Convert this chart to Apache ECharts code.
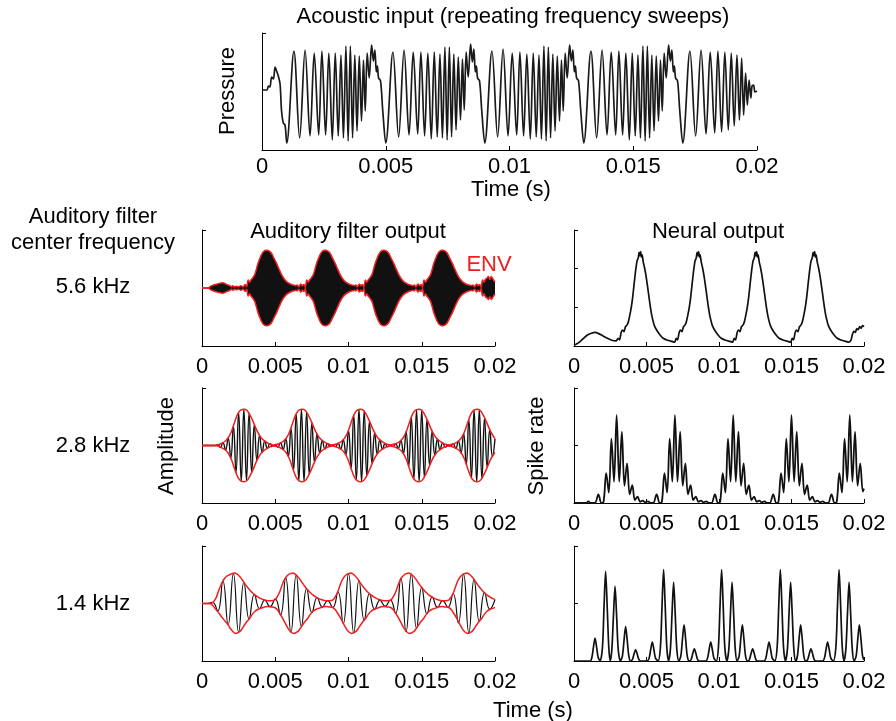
<!DOCTYPE html>
<html><head><meta charset="utf-8">
<script src="https://cdn.jsdelivr.net/npm/echarts@6/dist/echarts.min.js"></script>
<style>html,body{margin:0;padding:0;background:#fff}#c{width:896px;height:721px}</style>
</head><body><div id="c"></div>
<script>
// ---------- tick labels (x axes are in ms, labelled in s) ----------
const tickLabels = ['0','0.005','0.01','0.015','0.02'];

// ---------- Acoustic input: [time ms, pressure] ----------
const acoustic = [
[0,0],[0.2,0],[0.26,4],[0.32,3],[0.39,13],[0.46,11],[0.53,23],[0.59,19],[0.66,14],[0.73,6],[0.79,-21],[0.86,-33],[0.93,-35],
[1.0,-53],[1.29,39],[1.52,-48],[1.74,40],[1.94,-46],[2.11,37],[2.29,-45],[2.42,39],[2.57,-45],[2.70,37],[2.84,-50],[2.96,37],[3.08,-46],[3.19,35],[3.29,-48],[3.39,44],[3.48,-51],[3.57,44],[3.66,-48],[3.75,35],[3.84,-41],[3.93,34],[4.02,-31],[4.10,30],[4.17,-21],[4.25,37],[4.33,12],[4.43,45],[4.50,29],[4.56,40],[4.62,18],[4.66,24],[4.71,12],[4.79,9],[4.88,-21],
[5.0,-53],[5.29,38],[5.52,-47],[5.74,40],[5.94,-45],[6.11,38],[6.29,-44],[6.42,38],[6.57,-46],[6.70,37],[6.84,-49],[6.96,38],[7.08,-47],[7.19,36],[7.29,-48],[7.39,43],[7.48,-50],[7.57,43],[7.66,-47],[7.75,36],[7.84,-40],[7.93,33],[8.02,-30],[8.10,31],[8.17,-20],[8.25,38],[8.33,13],[8.43,46],[8.50,28],[8.56,41],[8.62,18],[8.66,24],[8.71,12],[8.79,9],[8.88,-21],
[9.0,-53],[9.29,39],[9.52,-47],[9.74,41],[9.94,-46],[10.11,37],[10.29,-45],[10.42,38],[10.57,-46],[10.70,36],[10.84,-49],[10.96,37],[11.08,-47],[11.19,35],[11.29,-49],[11.39,44],[11.48,-51],[11.57,43],[11.66,-48],[11.75,36],[11.84,-41],[11.93,34],[12.02,-31],[12.10,30],[12.17,-21],[12.25,37],[12.33,12],[12.43,45],[12.50,29],[12.56,40],[12.62,18],[12.66,24],[12.71,12],[12.79,9],[12.88,-21],
[13.0,-53],[13.29,39],[13.52,-48],[13.74,40],[13.94,-45],[14.11,38],[14.29,-45],[14.42,39],[14.57,-45],[14.70,37],[14.84,-50],[14.96,37],[15.08,-46],[15.19,35],[15.29,-48],[15.39,44],[15.48,-51],[15.57,44],[15.66,-48],[15.75,35],[15.84,-41],[15.93,34],[16.02,-31],[16.10,30],[16.17,-21],[16.25,37],[16.33,12],[16.43,45],[16.50,29],[16.56,40],[16.62,18],[16.66,24],[16.71,12],[16.79,9],[16.88,-21],
[17.0,-53],[17.29,39],[17.52,-46],[17.74,40],[17.94,-44],[18.11,38],[18.29,-43],[18.42,39],[18.57,-42],[18.70,38],[18.84,-40],[18.96,37],[19.08,-36],[19.19,35],[19.29,-30],[19.38,32],[19.46,-25],[19.54,17],[19.61,-15],[19.68,10],[19.75,-8],[19.80,4],[19.86,5],[19.92,-2],[20.0,-1]
];

// ---------- 5.6 kHz filter envelope: [time ms, amplitude] ----------
const env56Upper = [
[0,0],[0.4,0],[0.6,0.03],[0.9,0.06],[1.2,0.08],[1.4,0.09],[1.7,0.06],[1.9,0.04],[2.0,0.02],[2.1,0.04],[2.2,0.02],[2.4,0.03],[2.5,0.02],[2.65,0.04],[2.8,0.02],[2.95,0.06],[3.05,0.02],
[3.15,0.14],[3.25,0.1],[3.35,0.14],[3.45,0.17],[3.6,0.23],[3.72,0.33],[3.83,0.43],[3.95,0.51],[4.05,0.57],[4.2,0.63],[4.4,0.65],[4.57,0.64],[4.74,0.6],[4.9,0.52],[5.08,0.43],[5.25,0.33],[5.43,0.23],[5.6,0.16],[5.77,0.11],[5.95,0.08],[6.11,0.06],[6.25,0.05],[6.4,0.04],[6.5,0.05],[6.6,0.02],[6.75,0.07],[6.85,0.04],[6.95,0.06],[7.05,0.01],
[7.15,0.14],[7.25,0.1],[7.35,0.14],[7.45,0.17],[7.6,0.23],[7.72,0.33],[7.83,0.43],[7.95,0.51],[8.05,0.57],[8.2,0.63],[8.4,0.65],[8.57,0.64],[8.74,0.6],[8.9,0.52],[9.08,0.43],[9.25,0.33],[9.43,0.23],[9.6,0.16],[9.77,0.11],[9.95,0.08],[10.11,0.06],[10.25,0.05],[10.4,0.04],[10.5,0.05],[10.6,0.02],[10.75,0.07],[10.85,0.04],[10.95,0.06],[11.05,0.01],
[11.15,0.14],[11.25,0.1],[11.35,0.14],[11.45,0.17],[11.6,0.23],[11.72,0.33],[11.83,0.43],[11.95,0.51],[12.05,0.57],[12.2,0.63],[12.4,0.65],[12.57,0.64],[12.74,0.6],[12.9,0.52],[13.08,0.43],[13.25,0.33],[13.43,0.23],[13.6,0.16],[13.77,0.11],[13.95,0.08],[14.11,0.06],[14.25,0.05],[14.4,0.04],[14.5,0.05],[14.6,0.02],[14.75,0.07],[14.85,0.04],[14.95,0.06],[15.05,0.01],
[15.15,0.14],[15.25,0.1],[15.35,0.14],[15.45,0.17],[15.6,0.23],[15.72,0.33],[15.83,0.43],[15.95,0.51],[16.05,0.57],[16.2,0.63],[16.4,0.65],[16.57,0.64],[16.74,0.6],[16.9,0.52],[17.08,0.43],[17.25,0.33],[17.43,0.23],[17.6,0.16],[17.77,0.11],[17.95,0.08],[18.11,0.06],[18.25,0.05],[18.4,0.04],[18.5,0.05],[18.6,0.02],[18.75,0.07],[18.85,0.04],[18.95,0.06],[19.05,0.01],
[19.15,0.14],[19.25,0.1],[19.35,0.15],[19.45,0.17],[19.55,0.2],[19.65,0.15],[19.75,0.2],[19.85,0.16],[19.95,0.12],[20,0.1]
];
const env56Lower = [
[0,0],[0.4,0],[0.6,-0.03],[0.9,-0.06],[1.2,-0.08],[1.4,-0.09],[1.7,-0.06],[1.9,-0.04],[2.0,-0.02],[2.1,-0.04],[2.2,-0.02],[2.4,-0.03],[2.5,-0.02],[2.65,-0.04],[2.8,-0.02],[2.95,-0.06],[3.05,-0.02],
[3.15,-0.14],[3.25,-0.1],[3.35,-0.14],[3.45,-0.17],[3.6,-0.23],[3.72,-0.33],[3.83,-0.43],[3.95,-0.51],[4.05,-0.57],[4.2,-0.63],[4.4,-0.65],[4.57,-0.64],[4.74,-0.6],[4.9,-0.52],[5.08,-0.43],[5.25,-0.33],[5.43,-0.23],[5.6,-0.16],[5.77,-0.11],[5.95,-0.08],[6.11,-0.06],[6.25,-0.05],[6.4,-0.04],[6.5,-0.05],[6.6,-0.02],[6.75,-0.07],[6.85,-0.04],[6.95,-0.06],[7.05,-0.01],
[7.15,-0.14],[7.25,-0.1],[7.35,-0.14],[7.45,-0.17],[7.6,-0.23],[7.72,-0.33],[7.83,-0.43],[7.95,-0.51],[8.05,-0.57],[8.2,-0.63],[8.4,-0.65],[8.57,-0.64],[8.74,-0.6],[8.9,-0.52],[9.08,-0.43],[9.25,-0.33],[9.43,-0.23],[9.6,-0.16],[9.77,-0.11],[9.95,-0.08],[10.11,-0.06],[10.25,-0.05],[10.4,-0.04],[10.5,-0.05],[10.6,-0.02],[10.75,-0.07],[10.85,-0.04],[10.95,-0.06],[11.05,-0.01],
[11.15,-0.14],[11.25,-0.1],[11.35,-0.14],[11.45,-0.17],[11.6,-0.23],[11.72,-0.33],[11.83,-0.43],[11.95,-0.51],[12.05,-0.57],[12.2,-0.63],[12.4,-0.65],[12.57,-0.64],[12.74,-0.6],[12.9,-0.52],[13.08,-0.43],[13.25,-0.33],[13.43,-0.23],[13.6,-0.16],[13.77,-0.11],[13.95,-0.08],[14.11,-0.06],[14.25,-0.05],[14.4,-0.04],[14.5,-0.05],[14.6,-0.02],[14.75,-0.07],[14.85,-0.04],[14.95,-0.06],[15.05,-0.01],
[15.15,-0.14],[15.25,-0.1],[15.35,-0.14],[15.45,-0.17],[15.6,-0.23],[15.72,-0.33],[15.83,-0.43],[15.95,-0.51],[16.05,-0.57],[16.2,-0.63],[16.4,-0.65],[16.57,-0.64],[16.74,-0.6],[16.9,-0.52],[17.08,-0.43],[17.25,-0.33],[17.43,-0.23],[17.6,-0.16],[17.77,-0.11],[17.95,-0.08],[18.11,-0.06],[18.25,-0.05],[18.4,-0.04],[18.5,-0.05],[18.6,-0.02],[18.75,-0.07],[18.85,-0.04],[18.95,-0.06],[19.05,-0.01],
[19.15,-0.14],[19.25,-0.1],[19.35,-0.15],[19.45,-0.17],[19.55,-0.2],[19.65,-0.15],[19.75,-0.2],[19.85,-0.16],[19.95,-0.12],[20,-0.1]
];

// ---------- 2.8 kHz filter: carrier samples (uniform over 0..20 ms) and envelope ----------
const carrier28 = [0,0,0,0,0,0,0.015,-0.03,0.05,-0.08,0.13,-0.22,0.34,-0.47,0.57,-0.62,0.63,-0.61,0.56,-0.47,
0.36,-0.26,0.18,-0.12,0.08,-0.05,0.03,-0.01,0.01,-0.025,0.045,-0.07,0.12,-0.19,0.3,-0.43,0.55,-0.61,0.63,-0.62,
0.58,-0.5,0.39,-0.29,0.2,-0.13,0.09,-0.06,0.03,-0.015,0.01,-0.02,0.04,-0.065,0.1,-0.16,0.26,-0.4,0.53,-0.6,
0.63,-0.63,0.6,-0.53,0.42,-0.31,0.22,-0.15,0.1,-0.065,0.035,-0.02,0.01,-0.02,0.03,-0.05,0.09,-0.14,0.24,-0.37,
0.49,-0.58,0.62,-0.63,0.61,-0.55,0.45,-0.34,0.25,-0.17,0.11,-0.075,0.045,-0.025,0.01,-0.015,0.03,-0.05,0.08,-0.13,
0.21,-0.33,0.45,-0.56,0.62,-0.63,0.62,-0.57,0.48,-0.38,0.28,-0.19,0.12];
const env28Upper = [
[0,0],[0.9,0],[1.27,0.03],[1.55,0.07],[1.78,0.13],[2.0,0.24],[2.23,0.41],[2.46,0.56],[2.67,0.62],[2.87,0.63],[3.07,0.61],[3.25,0.54],[3.48,0.42],[3.71,0.28],[3.87,0.2],[4.05,0.13],[4.22,0.09],[4.39,0.06],[4.57,0.03],[4.73,0.02],[4.87,0.01],
[5.25,0.03],[5.53,0.07],[5.76,0.13],[5.98,0.24],[6.21,0.41],[6.44,0.56],[6.65,0.62],[6.85,0.63],[7.05,0.61],[7.23,0.54],[7.46,0.42],[7.69,0.28],[7.85,0.2],[8.03,0.13],[8.2,0.09],[8.37,0.06],[8.55,0.03],[8.71,0.02],[8.85,0.01],
[9.23,0.03],[9.51,0.07],[9.74,0.13],[9.96,0.24],[10.19,0.41],[10.42,0.56],[10.63,0.62],[10.83,0.63],[11.03,0.61],[11.21,0.54],[11.44,0.42],[11.67,0.28],[11.83,0.2],[12.01,0.13],[12.18,0.09],[12.35,0.06],[12.53,0.03],[12.69,0.02],[12.83,0.01],
[13.21,0.03],[13.49,0.07],[13.72,0.13],[13.94,0.24],[14.17,0.41],[14.4,0.56],[14.61,0.62],[14.81,0.63],[15.01,0.61],[15.19,0.54],[15.42,0.42],[15.65,0.28],[15.81,0.2],[15.99,0.13],[16.16,0.09],[16.33,0.06],[16.51,0.03],[16.67,0.02],[16.81,0.01],
[17.19,0.03],[17.47,0.07],[17.7,0.13],[17.92,0.24],[18.15,0.41],[18.38,0.56],[18.59,0.62],[18.79,0.63],[18.99,0.61],[19.17,0.54],[19.4,0.42],[19.63,0.28],[19.79,0.2],[19.97,0.13],[20,0.12]
];
const env28Lower = [
[0,0],[0.9,0],[1.27,-0.03],[1.55,-0.07],[1.78,-0.13],[2.0,-0.24],[2.23,-0.41],[2.46,-0.56],[2.67,-0.62],[2.87,-0.63],[3.07,-0.61],[3.25,-0.54],[3.48,-0.42],[3.71,-0.28],[3.87,-0.2],[4.05,-0.13],[4.22,-0.09],[4.39,-0.06],[4.57,-0.03],[4.73,-0.02],[4.87,-0.01],
[5.25,-0.03],[5.53,-0.07],[5.76,-0.13],[5.98,-0.24],[6.21,-0.41],[6.44,-0.56],[6.65,-0.62],[6.85,-0.63],[7.05,-0.61],[7.23,-0.54],[7.46,-0.42],[7.69,-0.28],[7.85,-0.2],[8.03,-0.13],[8.2,-0.09],[8.37,-0.06],[8.55,-0.03],[8.71,-0.02],[8.85,-0.01],
[9.23,-0.03],[9.51,-0.07],[9.74,-0.13],[9.96,-0.24],[10.19,-0.41],[10.42,-0.56],[10.63,-0.62],[10.83,-0.63],[11.03,-0.61],[11.21,-0.54],[11.44,-0.42],[11.67,-0.28],[11.83,-0.2],[12.01,-0.13],[12.18,-0.09],[12.35,-0.06],[12.53,-0.03],[12.69,-0.02],[12.83,-0.01],
[13.21,-0.03],[13.49,-0.07],[13.72,-0.13],[13.94,-0.24],[14.17,-0.41],[14.4,-0.56],[14.61,-0.62],[14.81,-0.63],[15.01,-0.61],[15.19,-0.54],[15.42,-0.42],[15.65,-0.28],[15.81,-0.2],[15.99,-0.13],[16.16,-0.09],[16.33,-0.06],[16.51,-0.03],[16.67,-0.02],[16.81,-0.01],
[17.19,-0.03],[17.47,-0.07],[17.7,-0.13],[17.92,-0.24],[18.15,-0.41],[18.38,-0.56],[18.59,-0.62],[18.79,-0.63],[18.99,-0.61],[19.17,-0.54],[19.4,-0.42],[19.63,-0.28],[19.79,-0.2],[19.97,-0.13],[20,-0.12]
];

// ---------- 1.4 kHz filter ----------
const carrier14 = [0,0,0.02,-0.13,0.39,-0.37,0.52,-0.5,0.37,-0.27,0.16,-0.09,0.06,-0.055,0.08,-0.2,0.45,-0.5,0.5,-0.4,
0.26,-0.16,0.1,-0.06,0.05,-0.07,0.2,-0.35,0.52,-0.51,0.4,-0.29,0.17,-0.1,0.06,-0.05,0.06,-0.17,0.44,-0.49,
0.51,-0.43,0.28,-0.18,0.11,-0.065,0.05,-0.065,0.17,-0.34,0.51,-0.51,0.42,-0.31,0.19,-0.1,0.07];
const env14Upper = [
[0,0],[0.55,0],[0.75,0.02],[0.87,0.06],[1.0,0.12],[1.1,0.2],[1.21,0.27],[1.38,0.37],[1.55,0.44],[1.72,0.48],[1.89,0.5],[2.05,0.52],[2.23,0.53],[2.4,0.51],[2.57,0.47],[2.73,0.42],[2.91,0.35],[3.08,0.29],[3.25,0.24],[3.43,0.19],[3.6,0.15],[3.83,0.11],[4.05,0.08],[4.28,0.06],[4.5,0.05],[4.73,0.05],
[4.96,0.06],[5.14,0.12],[5.3,0.2],[5.44,0.3],[5.59,0.4],[5.74,0.46],[5.89,0.5],[6.04,0.52],[6.19,0.53],[6.36,0.51],[6.53,0.47],[6.69,0.42],[6.87,0.35],[7.04,0.29],[7.21,0.24],[7.39,0.19],[7.56,0.15],[7.79,0.11],[8.01,0.08],[8.24,0.06],[8.46,0.05],[8.69,0.05],
[8.92,0.06],[9.1,0.12],[9.26,0.2],[9.4,0.3],[9.55,0.4],[9.7,0.46],[9.85,0.5],[10.0,0.52],[10.15,0.53],[10.32,0.51],[10.49,0.47],[10.65,0.42],[10.83,0.35],[11.0,0.29],[11.17,0.24],[11.35,0.19],[11.52,0.15],[11.75,0.11],[11.97,0.08],[12.2,0.06],[12.42,0.05],[12.65,0.05],
[12.88,0.06],[13.06,0.12],[13.22,0.2],[13.36,0.3],[13.51,0.4],[13.66,0.46],[13.81,0.5],[13.96,0.52],[14.11,0.53],[14.28,0.51],[14.45,0.47],[14.61,0.42],[14.79,0.35],[14.96,0.29],[15.13,0.24],[15.31,0.19],[15.48,0.15],[15.71,0.11],[15.93,0.08],[16.16,0.06],[16.38,0.05],[16.61,0.05],
[16.84,0.06],[17.02,0.12],[17.18,0.2],[17.32,0.3],[17.47,0.4],[17.62,0.46],[17.77,0.5],[17.92,0.52],[18.07,0.53],[18.24,0.51],[18.41,0.47],[18.57,0.42],[18.75,0.35],[18.92,0.29],[19.09,0.24],[19.27,0.19],[19.44,0.15],[19.67,0.11],[19.89,0.08],[20,0.07]
];
const env14Lower = [
[0,0],[0.55,0],[0.75,-0.04],[0.87,-0.08],[1.1,-0.15],[1.33,-0.23],[1.55,-0.3],[1.78,-0.37],[1.95,-0.44],[2.12,-0.49],[2.28,-0.52],[2.57,-0.49],[2.73,-0.44],[2.91,-0.37],[3.08,-0.31],[3.25,-0.26],[3.43,-0.19],[3.6,-0.14],[3.83,-0.1],[4.05,-0.08],[4.28,-0.06],[4.5,-0.05],[4.73,-0.06],[4.96,-0.07],
[5.14,-0.11],[5.3,-0.17],[5.49,-0.25],[5.74,-0.37],[5.94,-0.46],[6.09,-0.5],[6.24,-0.52],[6.53,-0.49],[6.69,-0.44],[6.87,-0.37],[7.04,-0.31],[7.21,-0.26],[7.39,-0.19],[7.56,-0.14],[7.79,-0.1],[8.01,-0.08],[8.24,-0.06],[8.46,-0.05],[8.69,-0.06],[8.92,-0.07],
[9.1,-0.11],[9.26,-0.17],[9.45,-0.25],[9.7,-0.37],[9.9,-0.46],[10.05,-0.5],[10.2,-0.52],[10.49,-0.49],[10.65,-0.44],[10.83,-0.37],[11.0,-0.31],[11.17,-0.26],[11.35,-0.19],[11.52,-0.14],[11.75,-0.1],[11.97,-0.08],[12.2,-0.06],[12.42,-0.05],[12.65,-0.06],[12.88,-0.07],
[13.06,-0.11],[13.22,-0.17],[13.41,-0.25],[13.66,-0.37],[13.86,-0.46],[14.01,-0.5],[14.16,-0.52],[14.45,-0.49],[14.61,-0.44],[14.79,-0.37],[14.96,-0.31],[15.13,-0.26],[15.31,-0.19],[15.48,-0.14],[15.71,-0.1],[15.93,-0.08],[16.16,-0.06],[16.38,-0.05],[16.61,-0.06],[16.84,-0.07],
[17.02,-0.11],[17.18,-0.17],[17.37,-0.25],[17.62,-0.37],[17.82,-0.46],[17.97,-0.5],[18.12,-0.52],[18.41,-0.49],[18.57,-0.44],[18.75,-0.37],[18.92,-0.31],[19.09,-0.26],[19.27,-0.19],[19.44,-0.14],[19.67,-0.1],[19.89,-0.08],[20,-0.07]
];

// ---------- Neural output (spike rate) ----------
const neural56 = [
[0,0.02],[0.3,0.08],[0.6,0.18],[0.9,0.28],[1.2,0.33],[1.45,0.35],[1.7,0.32],[2.0,0.26],[2.3,0.2],[2.6,0.15],[2.9,0.13],
[3.05,0.2],[3.15,0.16],[3.25,0.35],[3.35,0.41],[3.45,0.37],[3.55,0.5],[3.65,0.54],[3.75,0.63],[3.85,0.8],[3.95,1.0],[4.05,1.27],[4.15,1.62],[4.25,1.95],[4.35,2.2],[4.43,2.28],[4.49,2.42],[4.55,2.33],[4.6,2.44],[4.65,2.3],[4.7,2.36],[4.77,2.18],[4.85,2.05],[4.95,1.85],[5.05,1.6],[5.15,1.33],[5.25,1.05],[5.35,0.82],[5.45,0.65],[5.55,0.52],[5.75,0.38],[5.95,0.28],[6.15,0.2],[6.45,0.15],[6.75,0.12],[6.95,0.1],
[7.05,0.2],[7.15,0.16],[7.25,0.35],[7.35,0.41],[7.45,0.37],[7.55,0.5],[7.65,0.54],[7.75,0.63],[7.85,0.8],[7.95,1.0],[8.05,1.27],[8.15,1.62],[8.25,1.95],[8.35,2.2],[8.43,2.28],[8.49,2.42],[8.55,2.33],[8.6,2.44],[8.65,2.3],[8.7,2.36],[8.77,2.18],[8.85,2.05],[8.95,1.85],[9.05,1.6],[9.15,1.33],[9.25,1.05],[9.35,0.82],[9.45,0.65],[9.55,0.52],[9.75,0.38],[9.95,0.28],[10.15,0.2],[10.45,0.15],[10.75,0.12],[10.95,0.1],
[11.05,0.2],[11.15,0.16],[11.25,0.35],[11.35,0.41],[11.45,0.37],[11.55,0.5],[11.65,0.54],[11.75,0.63],[11.85,0.8],[11.95,1.0],[12.05,1.27],[12.15,1.62],[12.25,1.95],[12.35,2.2],[12.43,2.28],[12.49,2.42],[12.55,2.33],[12.6,2.44],[12.65,2.3],[12.7,2.36],[12.77,2.18],[12.85,2.05],[12.95,1.85],[13.05,1.6],[13.15,1.33],[13.25,1.05],[13.35,0.82],[13.45,0.65],[13.55,0.52],[13.75,0.38],[13.95,0.28],[14.15,0.2],[14.45,0.15],[14.75,0.12],[14.95,0.1],
[15.05,0.2],[15.15,0.16],[15.25,0.35],[15.35,0.41],[15.45,0.37],[15.55,0.5],[15.65,0.54],[15.75,0.63],[15.85,0.8],[15.95,1.0],[16.05,1.27],[16.15,1.62],[16.25,1.95],[16.35,2.2],[16.43,2.28],[16.49,2.42],[16.55,2.33],[16.6,2.44],[16.65,2.3],[16.7,2.36],[16.77,2.18],[16.85,2.05],[16.95,1.85],[17.05,1.6],[17.15,1.33],[17.25,1.05],[17.35,0.82],[17.45,0.65],[17.55,0.52],[17.75,0.38],[17.95,0.28],[18.15,0.2],[18.45,0.15],[18.75,0.12],[18.95,0.1],
[19.1,0.15],[19.2,0.3],[19.3,0.38],[19.4,0.35],[19.5,0.45],[19.6,0.42],[19.7,0.5],[19.8,0.46],[19.9,0.53],[20,0.5]
];
const neural28 = [
[0,0],[0.85,0],[0.99,0.03],[1.15,0],[1.44,0],[1.68,0.15],[1.89,0],[2.04,0.02],[2.22,0.52],[2.4,0.18],[2.58,1.12],[2.76,0.37],[2.94,1.53],[3.12,0.37],[3.3,1.24],[3.48,0.3],[3.66,0.69],[3.84,0.15],[4.02,0.31],[4.2,0.05],[4.38,0.11],[4.56,0.02],[4.74,0.04],[4.92,0.01],[5.1,0.03],[5.28,0],
[5.46,0],[5.7,0.15],[5.91,0],[6.06,0.02],[6.24,0.52],[6.42,0.18],[6.6,1.12],[6.78,0.37],[6.96,1.53],[7.14,0.37],[7.32,1.24],[7.5,0.3],[7.68,0.69],[7.86,0.15],[8.04,0.31],[8.22,0.05],[8.4,0.11],[8.58,0.02],[8.76,0.04],[8.94,0.01],[9.12,0.03],[9.3,0],
[9.48,0],[9.72,0.15],[9.93,0],[10.08,0.02],[10.26,0.52],[10.44,0.18],[10.62,1.12],[10.8,0.37],[10.98,1.53],[11.16,0.37],[11.34,1.24],[11.52,0.3],[11.7,0.69],[11.88,0.15],[12.06,0.31],[12.24,0.05],[12.42,0.11],[12.6,0.02],[12.78,0.04],[12.96,0.01],[13.14,0.03],[13.32,0],
[13.5,0],[13.74,0.15],[13.95,0],[14.1,0.02],[14.28,0.52],[14.46,0.18],[14.64,1.12],[14.82,0.37],[15.0,1.53],[15.18,0.37],[15.36,1.24],[15.54,0.3],[15.72,0.69],[15.9,0.15],[16.08,0.31],[16.26,0.05],[16.44,0.11],[16.62,0.02],[16.8,0.04],[16.98,0.01],[17.16,0.03],[17.34,0],
[17.52,0],[17.76,0.15],[17.97,0],[18.12,0.02],[18.3,0.52],[18.48,0.18],[18.66,1.12],[18.84,0.37],[19.02,1.53],[19.2,0.37],[19.38,1.24],[19.56,0.3],[19.74,0.69],[19.92,0.2],[20,0.25]
];
const neural14 = [
[0,0],[1.1,0],[1.23,0.06],[1.34,0.24],[1.45,0.4],[1.56,0.24],[1.67,0.06],[1.8,0],[1.96,0.23],[2.07,0.94],[2.18,1.56],[2.29,0.94],[2.4,0.23],[2.5,0],[2.61,0.2],[2.72,0.78],[2.83,1.3],[2.94,0.78],[3.05,0.2],[3.2,0],[3.34,0.09],[3.45,0.36],[3.56,0.6],[3.67,0.36],[3.78,0.09],[3.9,0],[4.03,0.03],[4.14,0.12],[4.25,0.2],[4.36,0.12],[4.47,0.03],[4.6,0],
[5.05,0],[5.18,0.05],[5.29,0.2],[5.4,0.33],[5.51,0.2],[5.62,0.05],[5.8,0],[5.96,0.24],[6.07,0.95],[6.18,1.59],[6.29,0.95],[6.4,0.24],[6.52,0],[6.65,0.21],[6.76,0.82],[6.87,1.37],[6.98,0.82],[7.09,0.21],[7.23,0],[7.37,0.09],[7.48,0.38],[7.59,0.63],[7.7,0.38],[7.81,0.09],[7.95,0],[8.08,0.03],[8.19,0.13],[8.3,0.21],[8.41,0.13],[8.52,0.03],[8.65,0],
[9.08,0],[9.21,0.05],[9.32,0.2],[9.43,0.33],[9.54,0.2],[9.65,0.05],[9.82,0],[9.96,0.24],[10.07,0.95],[10.18,1.59],[10.29,0.95],[10.4,0.24],[10.54,0],[10.68,0.21],[10.79,0.82],[10.9,1.37],[11.01,0.82],[11.12,0.21],[11.25,0],[11.39,0.09],[11.5,0.38],[11.61,0.63],[11.72,0.38],[11.83,0.09],[11.97,0],[12.1,0.03],[12.21,0.13],[12.32,0.21],[12.43,0.13],[12.54,0.03],[12.67,0],
[13.1,0],[13.23,0.05],[13.34,0.2],[13.45,0.33],[13.56,0.2],[13.67,0.05],[13.85,0],[14.01,0.24],[14.12,0.95],[14.23,1.59],[14.34,0.95],[14.45,0.24],[14.58,0],[14.72,0.21],[14.83,0.82],[14.94,1.37],[15.05,0.82],[15.16,0.21],[15.29,0],[15.41,0.09],[15.52,0.38],[15.63,0.63],[15.74,0.38],[15.85,0.09],[15.99,0],[16.12,0.03],[16.23,0.13],[16.34,0.21],[16.45,0.13],[16.56,0.03],[16.69,0],
[17.14,0],[17.27,0.05],[17.38,0.2],[17.49,0.33],[17.6,0.2],[17.71,0.05],[17.88,0],[18.06,0.24],[18.17,0.95],[18.28,1.59],[18.39,0.95],[18.5,0.24],[18.62,0],[18.75,0.21],[18.86,0.82],[18.97,1.37],[19.08,0.82],[19.19,0.21],[19.32,0],[19.46,0.09],[19.57,0.38],[19.68,0.63],[19.79,0.38],[19.9,0.09],[20,0.02]
];

// ---------- chart ----------
const FONT = 'Liberation Sans, Arial, Helvetica, sans-serif';
const FS = 22;
const RED = '#f01e1e';
const chart = echarts.init(document.getElementById('c'), null, {renderer:'canvas'});

const grids = [
  {left:262, top:33, width:495, height:117},
  {left:202, top:230, width:293, height:116},
  {left:202, top:388, width:293, height:115},
  {left:202, top:546, width:293, height:115},
  {left:574, top:230, width:290, height:116},
  {left:574, top:388, width:290, height:115},
  {left:574, top:546, width:290, height:115}
];
function xAx(i){
  return {type:'value', gridIndex:i, min:0, max:20, interval:5,
    axisLine:{show:true, onZero:false, lineStyle:{color:'#000', width:1}},
    axisTick:{show:true, inside:true, length:4, lineStyle:{color:'#000', width:1}},
    axisLabel:{show:true, margin: i===0 ? 6 : 10, fontSize:FS, fontFamily:FONT, color:'#000',
      formatter: v => tickLabels[Math.round(v/5)]},
    splitLine:{show:false}};
}
function yAx(i, min, max, interval){
  return {type:'value', gridIndex:i, min:min, max:max, interval:interval,
    axisLine:{show:true, onZero:false, lineStyle:{color:'#000', width:1}},
    axisTick:{show:true, inside:true, length:4, lineStyle:{color:'#000', width:1}},
    axisLabel:{show:false}, splitLine:{show:false}};
}
const step28 = 20/(carrier28.length-1);
const step14 = 20/(carrier14.length-1);
function line(i, data, color, width, smooth, extra){
  return Object.assign({type:'line', xAxisIndex:i, yAxisIndex:i, data:data, showSymbol:false, symbol:'none',
    smooth:smooth, silent:true, lineStyle:{color:color, width:width}}, extra||{});
}
const fillStyle = {areaStyle:{color:'#111', opacity:1}, lineStyle:{width:0, color:'#111'}};

const texts = [
  {t:'Acoustic input (repeating frequency sweeps)', x:513, y:17},
  {t:'Time (s)', x:511, y:190},
  {t:'Pressure', x:228, y:91, r:true},
  {t:'Auditory filter', x:93, y:217},
  {t:'center frequency', x:93, y:243},
  {t:'5.6 kHz', x:93, y:287},
  {t:'2.8 kHz', x:93, y:446},
  {t:'1.4 kHz', x:93, y:604},
  {t:'Auditory filter output', x:348, y:232},
  {t:'Neural output', x:718, y:232},
  {t:'ENV', x:489, y:265, c:RED},
  {t:'Amplitude', x:167, y:446, r:true},
  {t:'Spike rate', x:537, y:446, r:true},
  {t:'Time (s)', x:533, y:711}
];

const option = {
  animation:false,
  backgroundColor:'#fff',
  grid: grids,
  xAxis: grids.map((g,i)=>xAx(i)),
  yAxis: [yAx(0,-60,57,117), yAx(1,-1,1,2), yAx(2,-1,1,2), yAx(3,-1,1,2), yAx(4,0,3,1), yAx(5,0,2,1), yAx(6,0,2,1)],
  series: [
    line(0, acoustic, '#1a1a1a', 1.7, 0.35),
    line(1, env56Upper, '#111', 0, 0.3, fillStyle),
    line(1, env56Lower, '#111', 0, 0.3, fillStyle),
    line(1, env56Upper, RED, 1.5, 0.3),
    line(1, env56Lower, RED, 1.5, 0.3),
    line(2, carrier28.map((v,k)=>[k*step28, v]), '#111', 1.4, 0.5),
    line(2, env28Upper, RED, 1.5, 0.4),
    line(2, env28Lower, RED, 1.5, 0.4),
    line(3, carrier14.map((v,k)=>[k*step14, v]), '#111', 1.2, 0.5),
    line(3, env14Upper, RED, 1.5, 0.4),
    line(3, env14Lower, RED, 1.5, 0.4),
    line(4, neural56, '#111', 1.7, 0.2),
    line(5, neural28, '#111', 1.8, 0.35),
    line(6, neural14, '#111', 1.7, 0.3)
  ],
  graphic: texts.map(o => ({type:'text', x:o.x, y:o.y, rotation: o.r ? Math.PI/2 : 0, silent:true,
    style:{text:o.t, font: FS + 'px ' + FONT, fill:o.c || '#000',
      align:'center', verticalAlign:'middle', textAlign:'center', textVerticalAlign:'middle'}}))
};
chart.setOption(option);
</script>
</body></html>
